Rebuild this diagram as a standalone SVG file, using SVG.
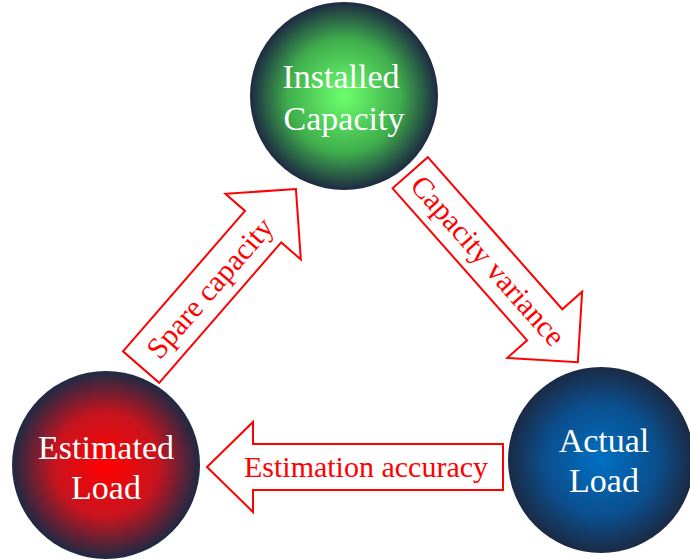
<svg xmlns="http://www.w3.org/2000/svg" width="690" height="559" viewBox="0 0 690 559">
<style>
.node-text{font-family:"Liberation Serif","Times New Roman",serif;font-size:34px;fill:#ffffff;text-anchor:middle}
.arrow{fill:#ffffff;stroke:#ff0000;stroke-width:2;stroke-linejoin:miter}
.arrow-text{font-family:"Liberation Serif","Times New Roman",serif;font-size:30px;fill:#ff0000;text-anchor:middle}
</style>
<defs>
<radialGradient id="gGreen" cx="0.5" cy="0.5" r="0.5">
<stop offset="0" stop-color="#6dff6d"/>
<stop offset="0.6" stop-color="#3fae4c"/>
<stop offset="1" stop-color="#1d2a42"/>
</radialGradient>
<radialGradient id="gRed" cx="0.5" cy="0.5" r="0.5">
<stop offset="0" stop-color="#ff0000"/>
<stop offset="0.55" stop-color="#c8141e"/>
<stop offset="1" stop-color="#1d2a44"/>
</radialGradient>
<radialGradient id="gBlue" cx="0.5" cy="0.5" r="0.5">
<stop offset="0" stop-color="#0070c4"/>
<stop offset="0.6" stop-color="#0b4f8e"/>
<stop offset="1" stop-color="#1b2a44"/>
</radialGradient>
</defs>
<g id="connectors">
<g id="arrow-spare" transform="translate(218.5,278) rotate(-49)">
<path class="arrow" d="M-118,-24 L68,-24 L68,-50 L118,0 L68,50 L68,24 L-118,24 Z"/>
<text class="arrow-text" x="-13" y="10">Spare capacity</text>
</g>
<g id="arrow-variance" transform="translate(494,267.5) rotate(48.5)">
<path class="arrow" d="M-126.5,-23.5 L76.5,-23.5 L76.5,-50 L126.5,0 L76.5,50 L76.5,23.5 L-126.5,23.5 Z"/>
<text class="arrow-text" x="-9" y="10">Capacity variance</text>
</g>
<g id="arrow-accuracy">
<path class="arrow" d="M503,444 L253,444 L253,422 L207,467 L253,512 L253,490 L503,490 Z"/>
<text class="arrow-text" x="366" y="477">Estimation accuracy</text>
</g>
</g>
<g id="node-installed">
<circle cx="344" cy="96" r="94" fill="url(#gGreen)"/>
<text class="node-text" x="341" y="88">Installed</text>
<text class="node-text" x="344" y="130">Capacity</text>
</g>
<g id="node-estimated">
<circle cx="106" cy="465" r="94" fill="url(#gRed)"/>
<text class="node-text" x="106" y="459">Estimated</text>
<text class="node-text" x="106" y="499">Load</text>
</g>
<g id="node-actual">
<circle cx="601" cy="460" r="93" fill="url(#gBlue)"/>
<text class="node-text" x="604" y="452">Actual</text>
<text class="node-text" x="604" y="492">Load</text>
</g>
</svg>
